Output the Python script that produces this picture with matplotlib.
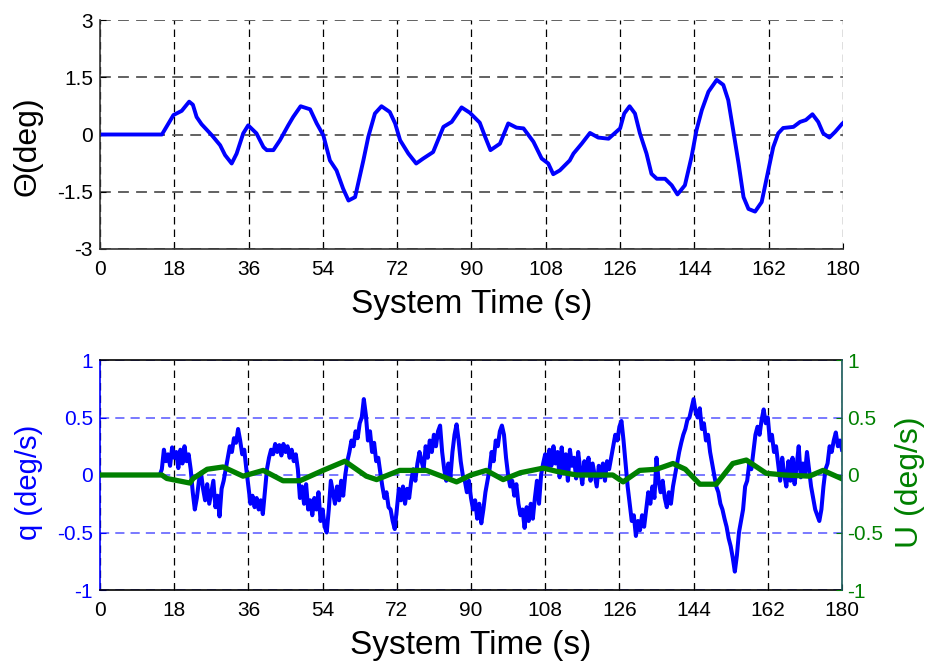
import numpy as np
import matplotlib.pyplot as plt

plt.rcParams['font.family'] = ['Liberation Sans', 'DejaVu Sans']
plt.rcParams['axes.unicode_minus'] = False

# pitch angle response (deg)
theta_time = [0, 15, 17.8, 19.8, 21.6, 22.5, 23.4, 24.6, 27.1, 29.1,
              30.3, 31.9, 33.1, 34.7, 35.9, 37.9, 39.6, 40.4, 42.0, 43.6,
              45.6, 46.8, 48.6, 50.9, 52.5, 54.1, 55.7, 57.3, 58.9, 60.2,
              61.8, 63.8, 65.0, 66.6, 68.2, 70.2, 71.5, 72.7, 74.7, 76.6,
              78.3, 80.7, 83.2, 85.2, 87.6, 89.6, 92.0, 93.3, 94.6, 96.9,
              98.9, 100.9, 102.6, 105.0, 107.0, 108.6, 109.8, 111.4, 113.8, 114.7,
              116.7, 118.7, 120.7, 123.2, 126.0, 127.0, 128.3, 129.6, 130.8, 132.4,
              133.6, 134.9, 136.9, 138.5, 139.9, 141.7, 143.3, 144.5, 145.8, 147.4,
              149.4, 151.0, 152.2, 153.4, 154.7, 155.9, 157.1, 158.7, 160.3, 161.9,
              163.1, 164.3, 165.5, 168.0, 169.6, 171.0, 172.6, 174.0, 175.2, 176.7,
              178.1, 179.7, 180]
theta_deg = [0, 0, 0.51, 0.62, 0.86, 0.78, 0.46, 0.27, -0.02, -0.28,
             -0.54, -0.76, -0.50, 0.03, 0.24, 0.03, -0.33, -0.41, -0.41, -0.15,
             0.24, 0.46, 0.74, 0.66, 0.29, -0.02, -0.68, -0.94, -1.42, -1.73,
             -1.64, -0.68, -0.06, 0.55, 0.74, 0.59, 0.29, -0.15, -0.50, -0.76,
             -0.63, -0.46, 0.20, 0.33, 0.71, 0.57, 0.31, -0.06, -0.41, -0.24,
             0.29, 0.18, 0.16, -0.19, -0.63, -0.76, -1.04, -0.94, -0.68, -0.50,
             -0.24, 0.04, -0.08, -0.11, 0.16, 0.55, 0.74, 0.55, 0.03, -0.50,
             -1.03, -1.16, -1.16, -1.33, -1.57, -1.33, -0.59, 0.11, 0.64, 1.12,
             1.43, 1.30, 0.90, 0.11, -0.76, -1.64, -1.95, -2.02, -1.77, -0.94,
             -0.33, 0.03, 0.17, 0.20, 0.33, 0.38, 0.53, 0.33, 0.03, -0.08,
             0.07, 0.27, 0.30]

# pitch rate q (deg/s), sampled every 0.5 s from t = 0
q_rate = [0.0] * 30 + [
    0.05, 0.22, 0.12, 0.18, 0.08, 0.24, 0.15, 0.20, 0.06, 0.22,
    0.10, 0.25, 0.12, 0.18, 0.05, -0.15, -0.30, -0.20, -0.05, 0.02,
    -0.12, -0.22, -0.08, -0.25, -0.15, -0.05, -0.28, -0.18, -0.36, -0.12,
    -0.05, 0.05, 0.15, 0.25, 0.20, 0.32, 0.28, 0.40, 0.30, 0.18,
    0.22, 0.05, -0.10, -0.25, -0.18, -0.28, -0.20, -0.30, -0.22, -0.34,
    -0.15, 0.05, 0.15, 0.22, 0.18, 0.27, 0.20, 0.26, 0.17, 0.27,
    0.20, 0.25, 0.15, 0.22, 0.12, 0.18, 0.05, -0.20, -0.10, -0.25,
    -0.08, -0.30, -0.22, -0.35, -0.20, -0.30, -0.15, -0.40, -0.30, -0.45,
    -0.50, -0.30, -0.05, -0.15, -0.25, -0.10, -0.22, -0.05, -0.18, 0.00,
    0.12, 0.20, 0.30, 0.25, 0.38, 0.32, 0.45, 0.50, 0.66, 0.52,
    0.30, 0.38, 0.20, 0.28, 0.12, 0.15, 0.02, -0.10, -0.20, -0.15,
    -0.28, -0.30, -0.40, -0.47, -0.30, -0.12, -0.22, -0.10, -0.25, -0.12,
    -0.20, -0.05, 0.05, -0.05, 0.10, 0.20, 0.12, 0.05, 0.25, 0.15,
    0.30, 0.20, 0.35, 0.25, 0.38, 0.43, 0.20, 0.05, -0.05, 0.10,
    -0.02, 0.20, 0.35, 0.44, 0.30, 0.12, 0.00, -0.05, -0.15, -0.05,
    -0.20, -0.30, -0.22, -0.38, -0.25, -0.42, -0.30, -0.15, -0.05, 0.05,
    0.20, 0.12, 0.30, 0.25, 0.38, 0.43, 0.35, 0.15, 0.00, -0.10,
    -0.05, -0.18, -0.08, -0.25, -0.35, -0.30, -0.46, -0.28, -0.40, -0.25,
    -0.38, -0.20, -0.05, -0.25, 0.00, 0.10, 0.18, 0.05, 0.22, 0.08,
    0.25, 0.10, 0.20, -0.02, 0.24, 0.05, 0.18, -0.05, 0.22, 0.08,
    0.15, -0.03, 0.20, 0.05, -0.08, 0.12, 0.02, 0.15, -0.05, 0.10,
    0.00, -0.10, 0.08, -0.02, 0.10, -0.05, 0.12, 0.05, 0.15, 0.25,
    0.35, 0.30, 0.42, 0.47, 0.30, 0.10, -0.10, -0.25, -0.40, -0.35,
    -0.53, -0.40, -0.48, -0.35, -0.45, -0.30, -0.15, -0.25, -0.10, -0.20,
    0.15, -0.05, -0.15, -0.05, -0.20, -0.28, -0.15, -0.25, -0.10, 0.00,
    0.10, 0.20, 0.28, 0.35, 0.40, 0.48, 0.50, 0.58, 0.66, 0.55,
    0.50, 0.58, 0.40, 0.45, 0.30, 0.35, 0.20, 0.10, 0.00, -0.10,
    -0.15, -0.25, -0.30, -0.38, -0.45, -0.55, -0.62, -0.72, -0.84, -0.70,
    -0.50, -0.40, -0.30, -0.10, -0.05, 0.10, 0.05, 0.20, 0.35, 0.42,
    0.35, 0.48, 0.57, 0.45, 0.50, 0.30, 0.35, 0.20, 0.25, 0.10,
    -0.05, 0.15, 0.00, -0.10, 0.12, -0.05, 0.15, -0.08, 0.08, 0.25,
    -0.02, 0.10, 0.00, 0.20, 0.05, -0.10, -0.20, -0.30, -0.35, -0.40,
    -0.30, -0.10, 0.05, 0.10, 0.25, 0.20, 0.30, 0.37, 0.25, 0.30,
    0.22]
q_time = np.linspace(0, 180, len(q_rate))

# control input U (deg/s)
u_time = [0, 15, 16.2, 19, 21.8, 22.6, 26, 29.9, 34.7, 39.6,
          44.4, 48.5, 54.1, 59.4, 64.6, 67.1, 72.7, 79.2, 86.5, 90,
          93.7, 97.8, 102, 107.5, 111, 115.6, 120, 124.4, 126.9, 130.9,
          135, 139, 142, 145.5, 149.5, 153.5, 156.8, 161.6, 166, 172.1,
          175.4, 179.8]
u_input = [0, 0, -0.03, -0.05, -0.07, -0.03, 0.05, 0.07, -0.01, 0.04,
           -0.05, -0.05, 0.04, 0.12, -0.01, -0.04, 0.04, 0.04, -0.06, 0.0,
           0.04, -0.04, 0.02, 0.06, 0.03, 0.0, 0.0, 0.0, -0.06, 0.04,
           0.05, 0.10, 0.05, -0.08, -0.08, 0.10, 0.13, 0.015, 0.0, -0.01,
           0.04, -0.03]

x_ticks = [0, 18, 36, 54, 72, 90, 108, 126, 144, 162, 180]
theta_ticks = [-3, -1.5, 0, 1.5, 3]
theta_labels = ['-3', '-1.5', '0', '1.5', '3']
rate_ticks = [-1, -0.5, 0, 0.5, 1]
rate_labels = ['-1', '-0.5', '0', '0.5', '1']

blue = (0, 0, 1)
green = (0, 0.5, 0)
tick_fs = 15
label_fs = 23

fig = plt.figure(figsize=(9.29, 6.65), dpi=100)
W, H = 929.0, 665.0

# ---- pitch angle ----
ax1 = fig.add_axes([100 / W, (H - 249) / H, 743 / W, 229 / H])
ax1.plot(theta_time, theta_deg, color=blue, lw=2.8)
ax1.set_xlim(0, 180)
ax1.set_ylim(-3, 3)
ax1.set_xticks(x_ticks)
ax1.set_yticks(theta_ticks)
ax1.set_yticklabels(theta_labels)
ax1.spines['top'].set_visible(False)
ax1.spines['right'].set_visible(False)
for s in ('left', 'bottom'):
    ax1.spines[s].set_linewidth(1.2)
    ax1.spines[s].set_color('#333333')
ax1.xaxis.grid(True, color='black', lw=0.9, ls=(0, (6, 4)))
ax1.yaxis.grid(True, color='#555555', lw=1.3, ls=(0, (6, 4)))
ax1.tick_params(direction='in', length=4, labelsize=tick_fs)
ax1.tick_params(axis='x', pad=8)
ax1.tick_params(axis='y', pad=5)
ax1.set_xlabel('System Time (s)', fontsize=24)
ax1.set_ylabel('Θ(deg)', fontsize=label_fs)
ax1.xaxis.set_label_coords(0.5, -0.175)
ax1.yaxis.set_label_coords(-0.078, 0.45)

# ---- pitch rate and control input ----
ax2 = fig.add_axes([100 / W, (H - 590) / H, 742 / W, 230 / H])
ax2.plot(q_time, q_rate, color=blue, lw=2.9)
ax2.set_xlim(0, 180)
ax2.set_ylim(-1, 1)
ax2.set_xticks(x_ticks)
ax2.set_yticks(rate_ticks)
ax2.set_yticklabels(rate_labels)
ax2.xaxis.grid(True, color='black', lw=0.9, ls=(0, (6, 4)))
ax2.yaxis.grid(True, color='#5555ff', lw=1.1, ls=(0, (6, 4)))
ax2.tick_params(direction='in', length=4, labelsize=tick_fs)
ax2.tick_params(axis='x', pad=8)
ax2.tick_params(axis='y', colors=blue, pad=5)
ax2.spines['left'].set_color(blue)
ax2.spines['right'].set_visible(False)
for s in ax2.spines.values():
    s.set_linewidth(1.2)
ax2.set_xlabel('System Time (s)', fontsize=24)
ax2.set_ylabel('q (deg/s)', fontsize=21, color=blue)
ax2.xaxis.set_label_coords(0.5, -0.172)
ax2.yaxis.set_label_coords(-0.077, 0.47)

ax3 = ax2.twinx()
ax3.plot(u_time, u_input, color=green, lw=3.8)
ax3.set_xlim(0, 180)
ax3.set_ylim(-1, 1)
ax3.set_yticks(rate_ticks)
ax3.set_yticklabels(rate_labels)
ax3.tick_params(direction='in', length=4, labelsize=tick_fs, colors=green, pad=4)
for s in ('left', 'top', 'bottom'):
    ax3.spines[s].set_visible(False)
ax3.spines['right'].set_color('#1a5a5a')
ax3.spines['right'].set_linewidth(1.2)
ax3.set_ylabel('U (deg/s)', fontsize=label_fs, color=green)
ax3.yaxis.set_label_coords(1.071, 0.47)

fig.savefig('out.png', dpi=100)
